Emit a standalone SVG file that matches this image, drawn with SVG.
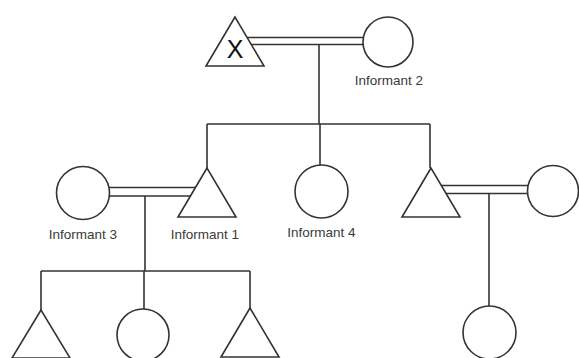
<svg xmlns="http://www.w3.org/2000/svg" width="579" height="358" viewBox="0 0 579 358">
<style>
.s{fill:#fff;stroke:#333;stroke-width:1.6}
.c{fill:none;stroke:#333;stroke-width:1.6}
.t{font-family:"Liberation Sans",Arial,sans-serif;font-size:13.5px;fill:#3a3a3a;text-anchor:middle}
.x{font-family:"Liberation Sans",Arial,sans-serif;font-size:25px;fill:#111;text-anchor:middle}
</style>
<rect width="579" height="358" fill="#fff"/>
<g id="connectors">
<path class="c" d="M247 37.5H364M251 44.5H364"/>
<path class="c" d="M319 44.5V124"/>
<path class="c" d="M207 124H430M207 124V168M320 124V165M430 124V168"/>
<path class="c" d="M109 187.5H196M110 196H191"/>
<path class="c" d="M145 196V271"/>
<path class="c" d="M41 271H250M41 271V310M144 271V309M250 271V308"/>
<path class="c" d="M441 185.5H528M446 193.5H528"/>
<path class="c" d="M489 193.5V306"/>
</g>
<g id="father">
<polygon class="s" points="235,17 206,66 264,66"/>
<text class="x" x="235" y="58">X</text>
</g>
<g id="informant2">
<circle class="s" cx="388" cy="42" r="25"/>
<text class="t" x="389" y="85">Informant 2</text>
</g>
<g id="informant3">
<circle class="s" cx="83" cy="193" r="26.5"/>
<text class="t" x="83" y="239">Informant 3</text>
</g>
<g id="informant1">
<polygon class="s" points="207,168 178,217 236,217"/>
<text class="t" x="205" y="239">Informant 1</text>
</g>
<g id="informant4">
<circle class="s" cx="321.5" cy="191.5" r="26.5"/>
<text class="t" x="321.5" y="237">Informant 4</text>
</g>
<g id="brother">
<polygon class="s" points="431,168 402,217 460,217"/>
</g>
<g id="sister-in-law">
<circle class="s" cx="553" cy="191" r="25.5"/>
</g>
<g id="child1">
<polygon class="s" points="41,310 12,358 70,358"/>
</g>
<g id="child2">
<circle class="s" cx="143" cy="335" r="26"/>
</g>
<g id="child3">
<polygon class="s" points="250,308 221,357 279,357"/>
</g>
<g id="nephew-niece">
<circle class="s" cx="489.5" cy="332.5" r="26.5"/>
</g>
</svg>
